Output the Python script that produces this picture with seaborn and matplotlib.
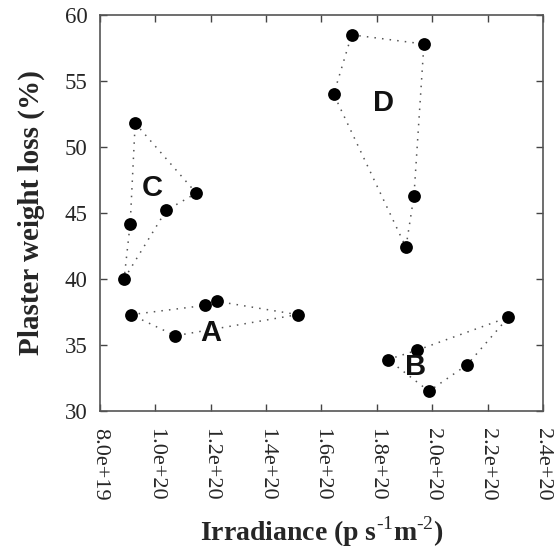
import numpy as np
import pandas as pd
import matplotlib
matplotlib.use('Agg')
import matplotlib.pyplot as plt
import seaborn as sns

# data, polygon order as drawn
group_names = ['A', 'B', 'C', 'D']
irr_A = [9.12e19, 1.18e20, 1.224e20, 1.514e20, 1.072e20]
loss_A = [37.3, 38.0, 38.3, 37.3, 35.7]
irr_B = [1.84e20, 1.945e20, 2.275e20, 2.126e20, 1.988e20]
loss_B = [33.9, 34.6, 37.1, 33.5, 31.5]
irr_C = [9.27e19, 1.148e20, 1.039e20, 8.87e19, 9.09e19]
loss_C = [51.8, 46.5, 45.2, 40.0, 44.2]
irr_D = [1.709e20, 1.970e20, 1.934e20, 1.905e20, 1.644e20]
loss_D = [58.5, 57.8, 46.3, 42.4, 54.0]

label_x = [1.199e20, 1.941e20, 9.88e19, 1.825e20]
label_y = [35.9, 33.3, 46.9, 53.3]

xticks = [8.0e19, 1.0e20, 1.2e20, 1.4e20, 1.6e20, 1.8e20, 2.0e20, 2.2e20, 2.4e20]
xticklabels = ['8.0e+19', '1.0e+20', '1.2e+20', '1.4e+20', '1.6e+20',
               '1.8e+20', '2.0e+20', '2.2e+20', '2.4e+20']
yticks = [30, 35, 40, 45, 50, 55, 60]

sns.set_style('ticks')
plt.rcParams['font.family'] = ['Liberation Serif', 'DejaVu Serif']
plt.rcParams['mathtext.fontset'] = 'custom'
plt.rcParams['mathtext.rm'] = 'Liberation Serif'
plt.rcParams['mathtext.bf'] = 'Liberation Serif:bold'

irrs = [irr_A, irr_B, irr_C, irr_D]
losses = [loss_A, loss_B, loss_C, loss_D]
df = pd.concat([pd.DataFrame({'irr': i, 'loss': l, 'group': g})
                for g, i, l in zip(group_names, irrs, losses)], ignore_index=True)

fig = plt.figure(figsize=(5.6, 5.49), dpi=100)
ax = fig.add_axes([0.1786, 0.2514, 0.791, 0.7213])

# dotted polygon round each group
for i, l in zip(irrs, losses):
    ax.plot(i + [i[0]], l + [l[0]], linestyle=(0, (1, 4)), color='#555555',
            linewidth=1.1, zorder=1)

sns.scatterplot(data=df, x='irr', y='loss', ax=ax, color='black', s=85,
                edgecolor='black', linewidth=0, legend=False, zorder=3)

for g, x, y in zip(group_names, label_x, label_y):
    ax.text(x, y, g, fontsize=21, fontweight='bold', ha='center', va='center',
            family='Liberation Sans', color='#111111', zorder=4)

ax.set_xlim(8.0e19, 2.4e20)
ax.set_ylim(30, 60)
ax.set_xticks(xticks)
ax.set_xticklabels(xticklabels, rotation=270, fontsize=16)
ax.set_yticks(yticks)
ax.set_yticklabels([str(v) for v in yticks], fontsize=16.5)
ax.tick_params(direction='in', length=5, width=1, top=True, right=True,
               color='#444444')
ax.tick_params(axis='y', pad=9)
ax.tick_params(axis='x', pad=12.5)
for sp in ax.spines.values():
    sp.set_visible(True)
    sp.set_color('#555555')
    sp.set_linewidth(1.2)

ax.set_xlabel(r'Irradiance (p s$^{\text{-1}}$m$^{\text{-2}}$)',
              fontsize=20, fontweight='bold', labelpad=10)
ax.set_ylabel('Plaster weight loss (%)', fontsize=21, fontweight='bold',
              labelpad=14)

fig.savefig('out.png', dpi=100)
